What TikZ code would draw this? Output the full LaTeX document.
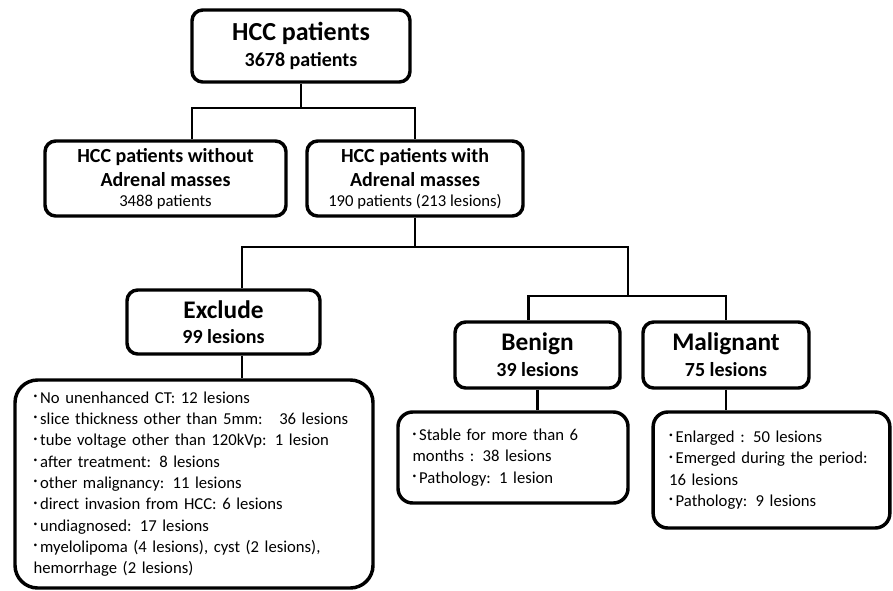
\documentclass[tikz,border=0pt]{standalone}
\usepackage{fontspec}
\setmainfont{Carlito}
\usepackage{graphicx}
% small raised bullet used in the lists
\newcommand{\bul}{\raisebox{0.55ex}{\scalebox{0.45}{\textbullet}}\,}

\begin{document}
\begin{tikzpicture}[x=0.75pt, y=-0.75pt,
        box/.style={draw, line width=2.6pt, rounded corners=8pt, align=center, inner sep=0pt},
        listbox/.style={draw, line width=2.6pt, rounded corners=11pt, align=left, inner ysep=0pt,
            font=\fontsize{12.5}{16}\selectfont},
        link/.style={line width=2pt}]
        \useasboundingbox (0,0) rectangle (893,590);

        % The top box -> all HCC patients
        \node[box, minimum width=163.5pt, minimum height=54pt] (top) at (301,46)
            {\fontsize{19.5}{21}\selectfont\bfseries HCC patients\\[5.5pt]
             \fontsize{15}{17}\selectfont\bfseries 3678 patients};

        % The two boxes of the second row
        \node[box, minimum width=180.75pt, minimum height=56.25pt] (without) at (165.5,178.5)
            {\fontsize{15}{17}\selectfont\bfseries HCC patients without\\[4.5pt]
             \fontsize{15}{17}\selectfont\bfseries Adrenal masses\\[2.5pt]
             \fontsize{12.5}{14}\selectfont 3488 patients};
        \node[box, minimum width=162pt, minimum height=56.25pt] (with) at (415,178.5)
            {\fontsize{15}{17}\selectfont\bfseries HCC patients with\\[4.5pt]
             \fontsize{15}{17}\selectfont\bfseries Adrenal masses\\[2.5pt]
             \fontsize{12.5}{14}\selectfont 190 patients (213 lesions)};

        % The three boxes of the third row
        \node[box, minimum width=144.75pt, minimum height=48pt] (exclude) at (223.5,322)
            {\fontsize{19}{21}\selectfont\bfseries Exclude\\[7pt]
             \fontsize{15}{17}\selectfont\bfseries 99 lesions};
        \node[box, minimum width=123.75pt, minimum height=49.5pt] (benign) at (537.5,355)
            {\fontsize{19}{21}\selectfont\bfseries Benign\\[5pt]
             \fontsize{15}{17}\selectfont\bfseries 39 lesions};
        \node[box, minimum width=124.5pt, minimum height=49.5pt] (malignant) at (726,355)
            {\fontsize{19}{21}\selectfont\bfseries Malignant\\[5pt]
             \fontsize{15}{17}\selectfont\bfseries 75 lesions};

        % The list under Exclude
        \node[listbox, rounded corners=17pt, inner xsep=14pt, text width=240.5pt,
            minimum height=156pt] (exlist) at (194,484)
            {\bul No unenhanced CT: 12 lesions\\
             \bul slice thickness other than 5mm:\ \ \ 36 lesions\\
             \bul tube voltage other than 120kVp: 1 lesion\\
             \bul after treatment: 8 lesions\\
             \bul other malignancy: 11 lesions\\
             \bul direct invasion from HCC: 6 lesions\\
             \bul undiagnosed: 17 lesions\\
             \bul myelolipoma (4 lesions), cyst (2 lesions),\\
             hemorrhage (2 lesions)};

        % The list under Benign
        \node[listbox, inner xsep=11pt, text width=150.5pt,
            minimum height=68.25pt] (blist) at (513,457.5)
            {\bul Stable for more than 6\\
             months : 38 lesions\\
             \bul Pathology: 1 lesion};

        % The list under Malignant
        \node[listbox, inner xsep=12pt, text width=153.5pt,
            minimum height=87pt] (mlist) at (771.5,470)
            {\bul Enlarged : 50 lesions\\
             \bul Emerged during the period:\\
             16 lesions\\
             \bul Pathology: 9 lesions};

        % the joints of the tree
        \coordinate (j1) at (301,108);
        \coordinate (j2) at (415,247);
        \coordinate (j3) at (628,296);

        % Lines from the top box to the second row
        \draw[link] (top.south) -- (j1);
        \draw[link] ([xshift=19.9pt]without.north) |- (j1) -| (with.north);

        % Lines from the with box to the third row
        \draw[link] (with.south) -- (j2);
        \draw[link] ([xshift=13.9pt]exclude.north) |- (j2) -| (j3);
        \draw[link] ([xshift=-7pt]benign.north) |- (j3) -| (malignant.north);

        % Lines from the third row to the lists
        \draw[link] ([xshift=13.9pt]exclude.south) -- ([xshift=13.9pt]exclude.south |- exlist.north);
        \draw[link] (benign.south) -- (benign.south |- blist.north);
        \draw[link] (malignant.south) -- (malignant.south |- mlist.north);
    \end{tikzpicture}
\end{document}
